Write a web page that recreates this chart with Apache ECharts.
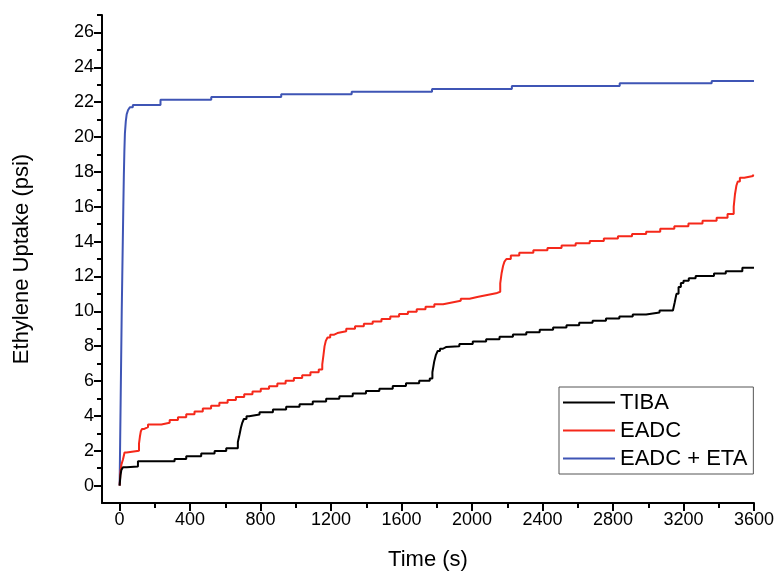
<!DOCTYPE html>
<html>
<head>
<meta charset="utf-8">
<script src="https://cdn.jsdelivr.net/npm/echarts@6/dist/echarts.min.js"></script>
<style>
html,body{margin:0;padding:0;background:#fff;}
#chart{width:777px;height:576px;}
</style>
</head>
<body>
<div id="chart"></div>
<script>
// ---- Data (time in s, uptake in psi) ----
const tibaTime = [0,5,10,19,40,104,312,378,463,539,605,671,680,688,696,705,720,735,794,870,945,1021,1096,1172,1247,1323,1398,1474,1550,1625,1700,1760,1775,1785,1795,1805,1818,1835,1852,1928,2004,2080,2156,2232,2308,2384,2460,2536,2608,2684,2760,2836,2912,2988,3064,3140,3150,3160,3172,3185,3200,3230,3269,3373,3440,3534,3600];
const tibaVal  = [0,0.6,0.9,1.05,1.1,1.4,1.53,1.68,1.84,1.99,2.14,2.5,2.9,3.3,3.6,3.82,3.98,4.08,4.21,4.36,4.52,4.67,4.82,4.98,5.13,5.28,5.43,5.56,5.72,5.87,6.02,6.15,6.5,7.1,7.5,7.72,7.85,7.95,8.0,8.13,8.27,8.4,8.54,8.67,8.8,8.94,9.07,9.2,9.34,9.46,9.58,9.7,9.82,9.93,10.05,10.12,10.5,11.0,11.4,11.62,11.75,11.9,12.02,12.17,12.3,12.5,12.5];

const eadcTime = [0,5,10,19,28,40,110,115,120,127,140,161,237,284,331,378,425,472,519,566,613,660,707,754,801,848,895,942,989,1036,1083,1130,1150,1157,1163,1170,1180,1195,1215,1236,1286,1336,1386,1436,1486,1536,1586,1636,1686,1736,1786,1836,1886,1936,1986,2036,2086,2136,2160,2168,2176,2184,2195,2220,2268,2348,2428,2508,2588,2668,2748,2828,2908,2988,3068,3148,3228,3308,3388,3450,3485,3492,3500,3508,3520,3545,3595];
const eadcVal  = [0,0.8,1.2,1.5,1.9,2.0,2.4,2.8,3.1,3.25,3.35,3.5,3.6,3.76,3.92,4.09,4.25,4.42,4.58,4.75,4.91,5.08,5.24,5.4,5.55,5.7,5.86,6.02,6.17,6.33,6.5,6.66,6.95,7.5,8.0,8.3,8.5,8.65,8.75,8.86,9.0,9.14,9.28,9.42,9.56,9.7,9.84,9.98,10.12,10.26,10.4,10.5,10.6,10.72,10.83,10.93,11.03,11.12,11.6,12.2,12.6,12.85,13.0,13.2,13.36,13.5,13.63,13.77,13.9,14.03,14.17,14.3,14.44,14.57,14.73,14.88,15.04,15.2,15.37,15.58,16.0,16.7,17.2,17.45,17.66,17.76,17.85];

const etaTime = [0,3,6,9,12,15,18,21,24,27,30,35,40,48,58,75,232,520,917,1317,1773,2226,2838,3360,3600];
const etaVal  = [0,2.5,5,7.5,10,12,14,16,17.8,19.2,20.2,20.9,21.3,21.55,21.7,21.83,22.14,22.29,22.46,22.6,22.75,22.92,23.08,23.21,23.21];

const seriesNames = ['TIBA','EADC','EADC + ETA'];
const xMajorTicks = [0,400,800,1200,1600,2000,2400,2800,3200,3600];
const xMinorTicks = [200,600,1000,1400,1800,2200,2600,3000,3400];
const yMajorTicks = [0,2,4,6,8,10,12,14,16,18,20,22,24,26];
const yMinorTicks = [1,3,5,7,9,11,13,15,17,19,21,23,25,27];

const zip = (a,b) => a.map((t,i)=>[t,b[i]]);

const FONT = '"Liberation Sans", Arial, sans-serif';
const chart = echarts.init(document.getElementById('chart'));
const lineW = 2;
const plain = v => String(v);
chart.setOption({
  animation:false,
  backgroundColor:'#fff',
  grid:{left:102,right:22,top:15,bottom:71,containLabel:false},
  legend:{
    orient:'vertical',
    left:559, top:387,
    data:seriesNames,
    icon:'rect', itemWidth:52, itemHeight:2, itemGap:3,
    padding:[3,6,3,4],
    borderColor:'#555', borderWidth:1, backgroundColor:'#fff',
    textStyle:{fontFamily:FONT,fontSize:22,color:'#000',lineHeight:25}
  },
  xAxis:[{
    type:'value', min:-100, max:3600, position:'bottom',
    name:'Time (s)', nameLocation:'middle', nameGap:46,
    nameTextStyle:{fontFamily:FONT,fontSize:22,color:'#000'},
    axisLine:{show:true,onZero:false,lineStyle:{color:'#000',width:2}},
    axisTick:{show:true,inside:false,length:8,lineStyle:{color:'#000',width:2},customValues:xMajorTicks},
    axisLabel:{show:true,margin:8,fontFamily:FONT,fontSize:18,color:'#000',customValues:xMajorTicks,formatter:plain},
    splitLine:{show:false}
  },{
    type:'value', min:-100, max:3600, position:'bottom',
    axisLine:{show:false,onZero:false},
    axisTick:{show:true,inside:false,length:5,lineStyle:{color:'#000',width:2},customValues:xMinorTicks},
    axisLabel:{show:false},
    splitLine:{show:false}
  }],
  yAxis:[{
    type:'value', min:-1, max:27, position:'left',
    name:'Ethylene Uptake (psi)', nameLocation:'middle', nameGap:69,
    nameTextStyle:{fontFamily:FONT,fontSize:22,color:'#000'},
    axisLine:{show:true,onZero:false,lineStyle:{color:'#000',width:2}},
    axisTick:{show:true,inside:false,length:8,lineStyle:{color:'#000',width:2},customValues:yMajorTicks},
    axisLabel:{show:true,margin:8,fontFamily:FONT,fontSize:18,color:'#000',customValues:yMajorTicks,formatter:plain},
    splitLine:{show:false}
  },{
    type:'value', min:-1, max:27, position:'left', offset:0,
    axisLine:{show:false,onZero:false},
    axisTick:{show:true,inside:false,length:5,lineStyle:{color:'#000',width:2},customValues:yMinorTicks},
    axisLabel:{show:false},
    splitLine:{show:false}
  }],
  series:[
    {name:seriesNames[0],type:'line',step:'end',showSymbol:false,data:zip(tibaTime,tibaVal),
     color:'#000000',lineStyle:{color:'#000000',width:lineW},z:3},
    {name:seriesNames[1],type:'line',step:'end',showSymbol:false,data:zip(eadcTime,eadcVal),
     color:'#f5281a',lineStyle:{color:'#f5281a',width:lineW},z:2},
    {name:seriesNames[2],type:'line',step:'end',showSymbol:false,data:zip(etaTime,etaVal),
     color:'#3f55b5',lineStyle:{color:'#3f55b5',width:lineW},z:1}
  ]
});
</script>
</body>
</html>
